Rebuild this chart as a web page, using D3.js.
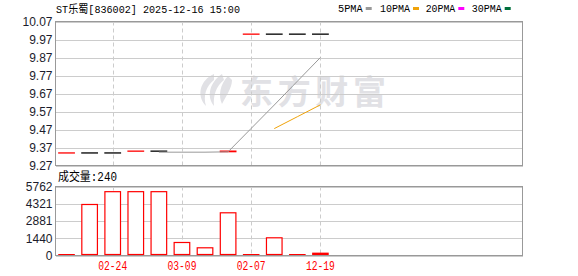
<!DOCTYPE html>
<html><head><meta charset="utf-8">
<script src="https://cdn.jsdelivr.net/npm/d3@7"></script>
<style>
html,body{margin:0;padding:0;background:#fff;}
svg{display:block;}
</style></head>
<body>
<svg id="c" width="578" height="276"></svg>
<script>
// ---- data ----
const titleText = "ST乐蜀[836002] 2025-12-16 15:00";
const dates  = ["02-12","02-19","02-24","02-28","03-05","03-09","03-12","11-20","02-07","04-15","09-10","12-19"];
const opens  = [9.34, 9.34, 9.34, 9.35, 9.35, null, null, 9.34, 10.00, 10.00, 10.00, 10.00];
const closes = [9.34, 9.34, 9.34, 9.35, 9.35, null, null, 9.35, 10.00, 10.00, 10.00, 10.00];
const candleColor = ["red","black","black","red","black","black","black","red","red","black","black","black"];
const volumes = [30, 4260, 5330, 5330, 5330, 1086, 643, 3566, 40, 1478, 30, 240];
const ma5  = [null, null, null, null, 9.344, 9.344, 9.344, 9.346, 9.476, 9.606, 9.738, 9.870];
const ma10 = [null, null, null, null, null, null, null, null, null, 9.475, 9.541, 9.607];
const priceTicks = [10.07, 9.97, 9.87, 9.77, 9.67, 9.57, 9.47, 9.37, 9.27];
const volTicks = [0, 1440, 2881, 4321, 5762];
const xLabelDates = ["02-24","03-09","02-07","12-19"];
const legendNames = ["5PMA","10PMA","20PMA","30PMA"];
const legendColors = ["#999999","#f0a30a","#ff00ff","#006f3c"];
const lastVolume = 240;

// ---- layout ----
const svg = d3.select("#c");
const L = 55.5, R = 522.5;
const pTop = 21.5, pBot = 165.5;
const vTop = 186.5, vBot = 255.5;
const slot = 23.08;

const x = d3.scaleBand().domain(dates).range([55, 55 + slot * dates.length]).paddingInner(0).paddingOuter(0);
const cx = d => x(d) + x.bandwidth() / 2;
const y = d3.scaleLinear().domain([9.27, 10.07]).range([pBot, pTop]);
const yv = d3.scaleLinear().domain([0, 5762]).range([vBot, vTop]);

const FONT_AX = "'Liberation Sans', Arial, sans-serif";
const FONT_MONO = "'Liberation Mono', 'Noto Sans CJK SC', monospace";

// watermark
const wm = svg.append("g").attr("fill", "#e1e1e5");
wm.append("path").attr("d", "M214,74 C200,80 196,96 206,106 C203,96 206,86 214,80 Z");
wm.append("path").attr("d", "M222,74 C210,82 206,96 214,106 C213,96 216,86 224,80 Z");
wm.append("path").attr("d", "M228,76 C220,84 218,96 222,104 C226,96 232,88 232,80 Z");
wm.append("text").attr("x", 240).attr("y", 104).attr("font-family", "'Noto Sans CJK SC', sans-serif")
  .attr("font-weight", "bold").attr("font-size", 33).attr("textLength", 146).attr("lengthAdjust", "spacing")
  .text("东方财富");

// price grid
const gy = svg.append("g").attr("transform", `translate(${L},0)`)
  .call(d3.axisLeft(y).tickValues(priceTicks).tickSize(-(R - L)).tickFormat(d3.format(".2f")).tickPadding(3));
gy.select(".domain").remove();
gy.selectAll(".tick line").attr("stroke", "#cccccc").attr("shape-rendering", "crispEdges");
gy.selectAll(".tick text").attr("font-family", FONT_AX).attr("font-size", 12).attr("fill", "#1c1c2c");

// volume grid
const gv = svg.append("g").attr("transform", `translate(${L},0)`)
  .call(d3.axisLeft(yv).tickValues(volTicks).tickSize(-(R - L)).tickFormat(d3.format("d")).tickPadding(3));
gv.select(".domain").remove();
gv.selectAll(".tick line").attr("stroke", "#cccccc").attr("shape-rendering", "crispEdges");
gv.selectAll(".tick text").attr("font-family", FONT_AX).attr("font-size", 12).attr("fill", "#1c1c2c");

// vertical dashed grid
[[pTop, pBot], [vTop, vBot]].forEach(([t, b]) => {
  svg.append("g").selectAll("line").data(xLabelDates).join("line")
    .attr("x1", d => Math.round(cx(d)) + 0.5).attr("x2", d => Math.round(cx(d)) + 0.5)
    .attr("y1", t).attr("y2", b)
    .attr("stroke", "#cccccc").attr("stroke-dasharray", "4,3");
});

// borders
[[pTop, pBot], [vTop, vBot]].forEach(([t, b]) => {
  svg.append("rect").attr("x", L).attr("y", t).attr("width", R - L).attr("height", b - t)
    .attr("fill", "none").attr("stroke", "#999999");
});

// candles
const cw = 16.8;
const cIdx = d3.range(dates.length).filter(i => opens[i] != null);
svg.append("g").selectAll("rect").data(cIdx).join("rect")
  .attr("x", i => cx(dates[i]) - cw / 2)
  .attr("y", i => Math.min(y(opens[i]), y(closes[i])) - 0.6)
  .attr("width", cw)
  .attr("height", i => Math.max(1.3, Math.abs(y(opens[i]) - y(closes[i]))))
  .attr("fill", i => candleColor[i] === "red" ? "#ff0000" : "#000000");

// MA lines
const line = d3.line().defined(d => d[1] != null).x(d => cx(d[0])).y(d => y(d[1]));
svg.append("path").attr("d", line(dates.map((d, i) => [d, ma5[i]])))
  .attr("fill", "none").attr("stroke", "#999999").attr("stroke-width", 1);
svg.append("path").attr("d", line(dates.map((d, i) => [d, ma10[i]])))
  .attr("fill", "none").attr("stroke", "#f0a30a").attr("stroke-width", 1);

// volume bars
const vw = 15.6;
const vbars = svg.append("g");
d3.range(dates.length).forEach(i => {
  const h = vBot - 0.5 - yv(volumes[i]);
  if (h < 4) {
    vbars.append("rect").attr("x", cx(dates[i]) - vw / 2 - 0.5).attr("y", vBot - 0.5 - Math.max(1, h))
      .attr("width", vw + 1).attr("height", Math.max(1, h)).attr("fill", "#ff0000");
  } else {
    vbars.append("rect").attr("x", cx(dates[i]) - vw / 2).attr("y", yv(volumes[i]))
      .attr("width", vw).attr("height", vBot - 1 - yv(volumes[i]))
      .attr("fill", "#ffffff").attr("stroke", "#ff0000").attr("stroke-width", 1.2);
  }
});

// x axis
const gx = svg.append("g").attr("transform", `translate(0,${vBot - 0.5})`)
  .call(d3.axisBottom(x).tickValues(xLabelDates).tickSize(0).tickPadding(6));
gx.select(".domain").remove();
gx.selectAll(".tick text").attr("font-family", FONT_MONO).attr("font-size", 12).attr("fill", "#ff0000")
  .attr("textLength", 29).attr("lengthAdjust", "spacingAndGlyphs");

// title
svg.append("text").attr("x", 56).attr("y", 12.5).attr("font-family", FONT_MONO).attr("font-size", 11.5)
  .attr("fill", "#000").attr("textLength", 184).attr("lengthAdjust", "spacingAndGlyphs").text(titleText);

// legend
const legX = [338, 380, 425.7, 471.7];
const legW = [24.7, 30, 29.6, 30];
legendNames.forEach((n, i) => {
  svg.append("text").attr("x", legX[i]).attr("y", 12.3).attr("font-family", FONT_MONO).attr("font-size", 11.5)
    .attr("fill", "#000").attr("textLength", legW[i]).attr("lengthAdjust", "spacingAndGlyphs").text(n);
  svg.append("rect").attr("x", legX[i] + legW[i] + 3).attr("y", 7).attr("width", 6).attr("height", 3)
    .attr("fill", legendColors[i]);
});

// volume label
svg.append("text").attr("x", 58).attr("y", 181).attr("font-family", FONT_MONO).attr("font-size", 12)
  .attr("fill", "#000").attr("textLength", 59).attr("lengthAdjust", "spacingAndGlyphs").text("成交量:" + lastVolume);
</script>
</body></html>
